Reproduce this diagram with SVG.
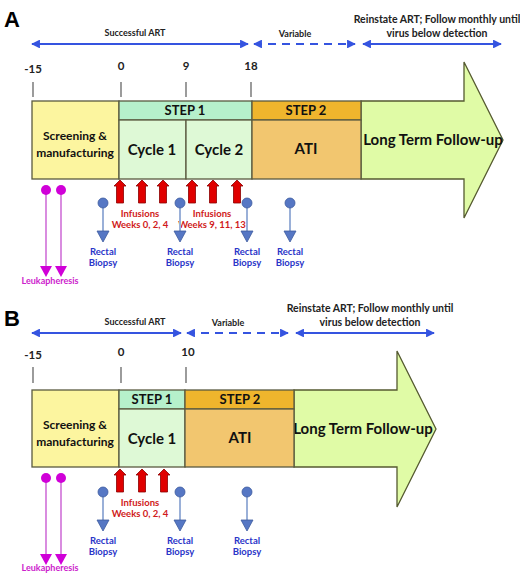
<svg xmlns="http://www.w3.org/2000/svg" width="520" height="574" viewBox="0 0 520 574">
<defs>
<style>
text{font-family:Lato,"Open Sans","Liberation Sans",sans-serif;font-weight:bold;text-anchor:middle}
.big{font-size:22px;font-family:"Liberation Sans",Arial,sans-serif;text-anchor:start}
.span{font-size:9px;fill:#222}
.rein{font-size:10.5px;fill:#222}
.tick{font-size:11.5px;fill:#222}
.tl{stroke:#666;stroke-width:1.3}
.box{stroke:#5a5a40;stroke-width:1.3}
.scr{fill:#FCF59F}
.s1{fill:#B6F0CB}
.cyc{fill:#DEF9D6}
.s2{fill:#EFB52D}
.ati{fill:#F2C66F}
.lt{fill:#E0FBA6;stroke:#555A30;stroke-width:1.3}
.lbl{font-size:12px;fill:#111}
.hdr{font-size:13px;fill:#111}
.cy{font-size:15px;fill:#111}
.ltt{font-size:15px;fill:#111}
.bl{stroke:#3554E0;stroke-width:2.2;fill:none}
.dash{stroke-dasharray:8 6}
.inf{font-size:9.5px;fill:#D01A1A}
.rb{font-size:9.5px;fill:#2A35C8}
.lk{font-size:9px;fill:#CC22CC}
.bpl{stroke:#9AB0D8;stroke-width:2}
.mgl{stroke:#D070D8;stroke-width:1.6}
</style>
<marker id="ah" viewBox="0 0 10 10" refX="9" refY="5" markerWidth="4" markerHeight="4" orient="auto-start-reverse" markerUnits="strokeWidth">
<path d="M0,0 L10,5 L0,10 Z" fill="#3554E0"/>
</marker>
<path id="red" d="M0,0 L6,6 L3.5,6 L3.5,23 L-3.5,23 L-3.5,6 L-6,6 Z" fill="#E00000" stroke="#8A0000" stroke-width="0.8"/>
<g id="bp">
<line x1="0" y1="0" x2="0" y2="30" class="bpl"/>
<circle cx="0" cy="0" r="5" fill="#5677C4" stroke="#3D5C9E" stroke-width="0.8"/>
<path d="M-6,28 L6,28 L0,39 Z" fill="#5677C4" stroke="#3D5C9E" stroke-width="0.8"/>
</g>
<g id="mgA">
<line x1="0" y1="0" x2="0" y2="78" class="mgl"/>
<circle cx="0" cy="0" r="5" fill="#D000D8"/>
<path d="M-6,76 L6,76 L0,87 Z" fill="#D000D8"/>
</g>
</defs>

<!-- Panel A -->
<text x="4" y="27" class="big">A</text>
<g id="connectors">
<line x1="32" y1="44" x2="248" y2="44" class="bl" marker-start="url(#ah)" marker-end="url(#ah)"/>
<line x1="254" y1="44" x2="355" y2="44" class="bl dash" marker-start="url(#ah)" marker-end="url(#ah)"/>
<line x1="363" y1="44" x2="501" y2="44" class="bl" marker-start="url(#ah)" marker-end="url(#ah)"/>
<line x1="32" y1="333" x2="181" y2="333" class="bl" marker-start="url(#ah)" marker-end="url(#ah)"/>
<line x1="187" y1="333" x2="288" y2="333" class="bl dash" marker-start="url(#ah)" marker-end="url(#ah)"/>
<line x1="296" y1="333" x2="434" y2="333" class="bl" marker-start="url(#ah)" marker-end="url(#ah)"/>
</g>
<text x="135" y="36" class="span">Successful ART</text>
<text x="295" y="37" class="span">Variable</text>
<text x="437" y="23" class="rein">Reinstate ART; Follow monthly until</text>
<text x="437" y="37" class="rein">virus below detection</text>

<g id="ticksA">
<text x="33" y="73" class="tick">-15</text>
<text x="121" y="70" class="tick">0</text>
<text x="186" y="70" class="tick">9</text>
<text x="251" y="70" class="tick">18</text>
<line x1="33" y1="82" x2="33" y2="97" class="tl"/>
<line x1="121" y1="82" x2="121" y2="97" class="tl"/>
<line x1="186" y1="82" x2="186" y2="97" class="tl"/>
<line x1="251" y1="82" x2="251" y2="97" class="tl"/>
</g>

<g id="A-followup">
<path d="M361,101 L464,101 L464,62 L503,140 L464,218 L464,179 L361,179 Z" class="lt"/>
<text x="433" y="145" class="ltt">Long Term Follow-up</text>
</g>
<g id="A-screening">
<rect x="32" y="101" width="87" height="78" class="box scr"/>
<text x="75" y="140" class="lbl">Screening &amp;</text>
<text x="75" y="157" class="lbl">manufacturing</text>
</g>
<g id="A-step1">
<rect x="119" y="101" width="133" height="19" class="box s1"/>
<text x="185" y="115" class="hdr">STEP 1</text>
</g>
<g id="A-cycle1">
<rect x="119" y="120" width="67" height="59" class="box cyc"/>
<text x="152" y="155" class="cy">Cycle 1</text>
</g>
<g id="A-cycle2">
<rect x="186" y="120" width="66" height="59" class="box cyc"/>
<text x="219" y="155" class="cy">Cycle 2</text>
</g>
<g id="A-step2">
<rect x="252" y="101" width="109" height="19" class="box s2"/>
<text x="306" y="115" class="hdr">STEP 2</text>
</g>
<g id="A-ati">
<rect x="252" y="120" width="109" height="59" class="box ati"/>
<text x="306" y="154" class="cy">ATI</text>
</g>

<g id="A-infusions">
<use href="#red" x="120" y="180"/>
<use href="#red" x="142" y="180"/>
<use href="#red" x="163" y="180"/>
<use href="#red" x="192" y="180"/>
<use href="#red" x="213" y="180"/>
<use href="#red" x="237" y="180"/>
<text x="140" y="217" class="inf">Infusions</text>
<text x="140" y="228" class="inf">Weeks 0, 2, 4</text>
<text x="212" y="217" class="inf">Infusions</text>
<text x="212" y="228" class="inf">Weeks 9, 11, 13</text>
</g>
<g id="A-biopsies">
<use href="#bp" x="103" y="203"/>
<use href="#bp" x="180" y="203"/>
<use href="#bp" x="247" y="203"/>
<use href="#bp" x="290" y="203"/>
<text x="103" y="255" class="rb">Rectal</text>
<text x="103" y="266" class="rb">Biopsy</text>
<text x="180" y="255" class="rb">Rectal</text>
<text x="180" y="266" class="rb">Biopsy</text>
<text x="247" y="255" class="rb">Rectal</text>
<text x="247" y="266" class="rb">Biopsy</text>
<text x="290" y="255" class="rb">Rectal</text>
<text x="290" y="266" class="rb">Biopsy</text>
</g>
<g id="A-leuka">
<use href="#mgA" x="46" y="190"/>
<use href="#mgA" x="61" y="190"/>
<text x="50" y="284" class="lk">Leukapheresis</text>
</g>

<!-- Panel B -->
<text x="4" y="326" class="big">B</text>
<text x="135" y="325" class="span">Successful ART</text>
<text x="228" y="326" class="span">Variable</text>
<text x="370" y="312" class="rein">Reinstate ART; Follow monthly until</text>
<text x="370" y="326" class="rein">virus below detection</text>

<g id="ticksB">
<text x="33" y="359" class="tick">-15</text>
<text x="121" y="356" class="tick">0</text>
<text x="188" y="356" class="tick">10</text>
<line x1="33" y1="367" x2="33" y2="383" class="tl"/>
<line x1="121" y1="367" x2="121" y2="383" class="tl"/>
<line x1="186" y1="367" x2="186" y2="383" class="tl"/>
</g>

<g id="B-followup">
<path d="M294,390 L397,390 L397,351 L436,429 L397,507 L397,467 L294,467 Z" class="lt"/>
<text x="363" y="434" class="ltt">Long Term Follow-up</text>
</g>
<g id="B-screening">
<rect x="32" y="390" width="87" height="77" class="box scr"/>
<text x="75" y="429" class="lbl">Screening &amp;</text>
<text x="75" y="446" class="lbl">manufacturing</text>
</g>
<g id="B-step1">
<rect x="119" y="390" width="66" height="19" class="box s1"/>
<text x="152" y="404" class="hdr">STEP 1</text>
</g>
<g id="B-cycle1">
<rect x="119" y="409" width="66" height="58" class="box cyc"/>
<text x="152" y="444" class="cy">Cycle 1</text>
</g>
<g id="B-step2">
<rect x="185" y="390" width="109" height="19" class="box s2"/>
<text x="240" y="404" class="hdr">STEP 2</text>
</g>
<g id="B-ati">
<rect x="185" y="409" width="109" height="58" class="box ati"/>
<text x="240" y="443" class="cy">ATI</text>
</g>

<g id="B-infusions">
<use href="#red" x="120" y="469"/>
<use href="#red" x="142" y="469"/>
<use href="#red" x="164" y="469"/>
<text x="140" y="506" class="inf">Infusions</text>
<text x="140" y="517" class="inf">Weeks 0, 2, 4</text>
</g>
<g id="B-biopsies">
<use href="#bp" x="103" y="492"/>
<use href="#bp" x="180" y="492"/>
<use href="#bp" x="247" y="492"/>
<text x="103" y="544" class="rb">Rectal</text>
<text x="103" y="555" class="rb">Biopsy</text>
<text x="180" y="544" class="rb">Rectal</text>
<text x="180" y="555" class="rb">Biopsy</text>
<text x="247" y="544" class="rb">Rectal</text>
<text x="247" y="555" class="rb">Biopsy</text>
</g>
<g id="B-leuka">
<use href="#mgA" x="46" y="478"/>
<use href="#mgA" x="61" y="478"/>
<text x="50" y="571" class="lk">Leukapheresis</text>
</g>
</svg>
